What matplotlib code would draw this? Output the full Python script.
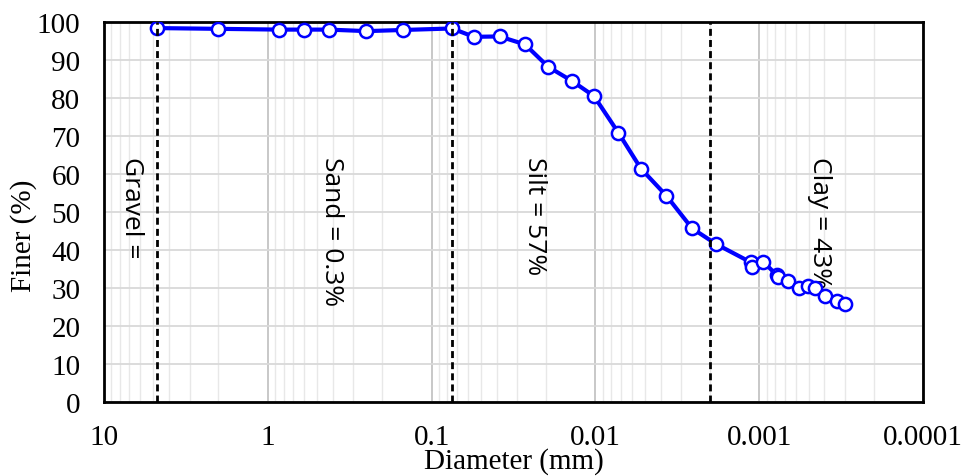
import matplotlib
matplotlib.use("Agg")
import matplotlib.pyplot as plt
from matplotlib.ticker import LogLocator, FixedLocator, FixedFormatter, NullFormatter

# Data
diameter_mm = [4.75, 2.00, 0.85, 0.60, 0.425, 0.25, 0.15, 0.075,
               0.0552, 0.0385, 0.0269, 0.0194, 0.0138, 0.0102, 0.00725,
               0.00527, 0.00369, 0.00257, 0.00184, 0.00113, 0.00110,
               0.000944, 0.000782, 0.000773, 0.000664, 0.000571, 0.000501,
               0.000456, 0.000396, 0.000336, 0.000298]
finer_pct = [98.4, 98.2, 98.0, 98.0, 98.0, 97.6, 97.9, 98.3,
             96.1, 96.2, 94.1, 88.2, 84.4, 80.5, 70.9,
             61.4, 54.3, 45.7, 41.6, 36.8, 35.4,
             36.9, 33.4, 32.8, 31.9, 30.0, 30.6,
             30.0, 28.0, 26.7, 25.7]

boundaries_mm = [4.75, 0.075, 0.002]
zone_labels = ["Gravel =", "Sand = 0.3%", "Silt = 57%", "Clay = 43%"]
zone_label_x = [6.75, 0.41, 0.0235, 0.00043]
zone_label_y = 64.8

xticks = [10, 1, 0.1, 0.01, 0.001, 0.0001]
xtick_labels = ["10", "1", "0.1", "0.01", "0.001", "0.0001"]
yticks = list(range(0, 101, 10))

fig = plt.figure(figsize=(9.67, 4.77), dpi=100)
ax = fig.add_axes([104/967, 1-403/477, (923-104)/967, (403-23)/477])

ax.set_xscale("log")
ax.set_xlim(10, 0.0001)
ax.set_ylim(0, 100)

ax.xaxis.set_major_locator(FixedLocator(xticks))
ax.xaxis.set_major_formatter(FixedFormatter(xtick_labels))
ax.xaxis.set_minor_locator(LogLocator(base=10, subs=range(2, 10), numticks=20))
ax.xaxis.set_minor_formatter(NullFormatter())
ax.set_yticks(yticks)

ax.grid(which="major", axis="x", color="#C4C4C4", linewidth=1.3, zorder=0)
ax.grid(which="minor", axis="x", color="#E8E8E8", linewidth=1.0, zorder=0)
ax.grid(which="major", axis="y", color="#D9D9D9", linewidth=1.3, zorder=0)
ax.set_axisbelow(True)

serif = ["Liberation Serif", "DejaVu Serif"]
ax.tick_params(axis="both", which="both", length=0)
ax.tick_params(axis="y", pad=17, labelsize=21)
ax.tick_params(axis="x", pad=16, labelsize=21)
for lab in ax.get_xticklabels() + ax.get_yticklabels():
    lab.set_fontfamily(serif)

for s in ax.spines.values():
    s.set_linewidth(2.0)
    s.set_color("black")

ax.plot(diameter_mm, finer_pct, color="#0000FF", linewidth=3.0,
        marker="o", markersize=9.5, markerfacecolor="white",
        markeredgecolor="#0000FF", markeredgewidth=1.8, zorder=3)

for b in boundaries_mm:
    ax.axvline(b, color="black", linewidth=2.0, linestyle=(0, (2.5, 1.5)), zorder=4)

for t, x in zip(zone_labels, zone_label_x):
    ax.text(x, zone_label_y, t, rotation=-90, ha="center", va="top",
            fontsize=19, family=["Open Sans", "DejaVu Sans"], zorder=2)

ax.set_xlabel("Diameter (mm)", fontsize=21, family=serif)
ax.set_ylabel("Finer (%)", fontsize=21, family=serif)
ax.xaxis.set_label_coords(0.5, -0.118)
ax.yaxis.set_label_coords(-0.082, 0.44)

fig.savefig("out.png", dpi=100)
